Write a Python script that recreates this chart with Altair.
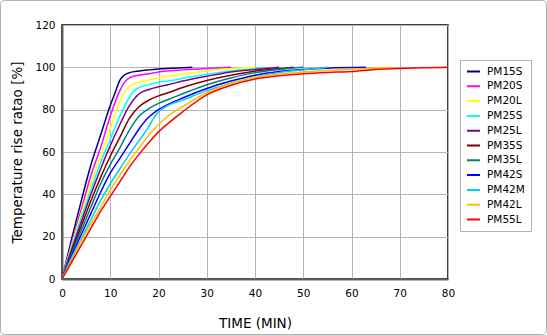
import altair as alt
import pandas as pd

names = ["PM15S", "PM20S", "PM20L", "PM25S", "PM25L", "PM35S",
         "PM35L", "PM42S", "PM42M", "PM42L", "PM55L"]
colors = ["#000080", "#FF00FF", "#FFFF00", "#00FFFF", "#800080", "#800000",
          "#008080", "#0000FF", "#00CCFF", "#FFC000", "#FF0000"]

pm15s_t = [0, 2, 4, 6, 8, 10, 11, 12, 13, 14, 16, 18, 20, 25, 27]
pm15s_v = [0, 19, 37, 54, 68, 82, 88, 94, 96.5, 97.5, 98.3, 98.8, 99.2, 99.8, 100]

pm20s_t = [0, 2, 4, 6, 8, 10, 12, 13, 14, 16, 18, 20, 25, 30, 35]
pm20s_v = [0, 17, 33, 49, 62, 77, 89, 93, 95, 96.3, 97, 97.8, 98.8, 99.5, 100]

pm20l_t = [0, 2, 4, 6, 8, 10, 11, 12, 13, 14, 16, 18, 20, 22, 25, 30, 35, 40]
pm20l_v = [0, 16, 31, 45, 58, 71, 78, 84, 88.5, 91, 93, 94, 95, 95.7, 96.8, 98.3, 99.3, 100]

pm25s_t = [0, 2, 4, 6, 8, 10, 12, 14, 15, 16, 18, 20, 22, 25, 30, 35, 40, 42]
pm25s_v = [0, 15, 29, 42, 55, 66, 77, 86, 89, 90.5, 91.8, 93, 93.5, 94.8, 96.7, 98.3, 99.3, 100]

pm25l_t = [0, 2, 4, 6, 8, 10, 12, 14, 16, 18, 20, 22, 25, 30, 35, 40, 45]
pm25l_v = [0, 14, 27, 40, 52, 63, 73, 82, 87.5, 89.5, 90.8, 91.8, 93.5, 95.8, 97.8, 99, 100]

pm35s_t = [0, 2, 4, 6, 8, 10, 12, 14, 16, 18, 20, 22, 25, 30, 35, 40, 45, 48]
pm35s_v = [0, 13, 25, 37, 48, 58, 67, 76, 81.5, 84.5, 86.5, 88, 90.5, 93.8, 96.3, 98.2, 99.3, 100]

pm35l_t = [0, 2, 4, 6, 8, 10, 12, 14, 16, 18, 20, 22, 25, 30, 35, 40, 45, 50]
pm35l_v = [0, 12, 23, 34, 45, 54, 62, 70.5, 77, 80.5, 83, 84.8, 87.5, 91.8, 95, 97.5, 99, 100]

pm42s_t = [0, 2, 4, 6, 8, 10, 12, 14, 16, 18, 20, 22, 25, 30, 35, 40, 45, 50, 55, 63]
pm42s_v = [0, 11, 21, 31, 41, 50, 57, 64, 71, 76.5, 80, 82.5, 85.5, 90, 93.5, 96.3, 98, 99, 99.6, 100]

pm42m_t = [0, 2, 4, 6, 8, 10, 12, 14, 16, 18, 19, 20, 22, 25, 30, 35, 40, 45, 50, 55]
pm42m_v = [0, 10, 19, 28, 37, 45, 52, 59, 65.5, 72, 76, 79, 82, 84.5, 89, 92.5, 95.5, 97.5, 98.8, 100]

pm42l_t = [0, 2, 4, 6, 8, 10, 12, 14, 16, 18, 20, 22, 25, 30, 35, 40, 45, 50, 55, 60, 65, 68]
pm42l_v = [0, 9, 18, 26, 34, 42, 49, 56, 62, 68, 73, 77, 81.5, 88, 92.5, 95.3, 96.8, 97.8, 98.5, 99.1, 99.6, 100]

pm55l_t = [0, 2, 4, 6, 8, 10, 12, 14, 16, 18, 20, 22, 25, 30, 35, 40, 45, 50, 55, 60, 65, 70, 75, 80]
pm55l_v = [0, 8, 16, 24, 32, 39, 46, 53, 59, 64.5, 69.5, 73.5, 79, 87, 91.5, 94.5, 96, 97, 97.6, 98, 99, 99.4, 99.8, 100]

series = [
    (pm15s_t, pm15s_v), (pm20s_t, pm20s_v), (pm20l_t, pm20l_v),
    (pm25s_t, pm25s_v), (pm25l_t, pm25l_v), (pm35s_t, pm35s_v),
    (pm35l_t, pm35l_v), (pm42s_t, pm42s_v), (pm42m_t, pm42m_v),
    (pm42l_t, pm42l_v), (pm55l_t, pm55l_v),
]

rows = []
for i, (name, (ts, vs)) in enumerate(zip(names, series)):
    for t, v in zip(ts, vs):
        rows.append({"series": name, "order": i, "time": t, "ratio": v})
df = pd.DataFrame(rows)

FONT = "DejaVu Sans"

frame = alt.Chart(alt.Data(values=[{}])).mark_rect(
    fillOpacity=0, stroke="#b0b0b0", strokeWidth=1, cornerRadius=4
).encode(
    x=alt.value(-61.5), x2=alt.value(484.5),
    y=alt.value(-24.5), y2=alt.value(309.5)
)

lines = alt.Chart(df).mark_line(strokeWidth=1.5, interpolate="monotone").encode(
    x=alt.X("time:Q", title="TIME (MIN)",
            scale=alt.Scale(domain=[0, 80], nice=False),
            axis=alt.Axis(values=list(range(0, 81, 10)), grid=True,
                          ticks=False, tickSize=0, labelPadding=9,
                          titlePadding=18, labelFlush=False)),
    y=alt.Y("ratio:Q", title="Temperature rise ratao [%]",
            scale=alt.Scale(domain=[0, 120], nice=False),
            axis=alt.Axis(values=list(range(0, 121, 20)), grid=True,
                          ticks=False, tickSize=0, labelPadding=7,
                          titlePadding=10, labelFlush=False)),
    color=alt.Color("series:N", sort=names,
                    scale=alt.Scale(domain=names, range=colors),
                    legend=alt.Legend(title=None, orient="none",
                                      legendX=398, legendY=35,
                                      symbolType="stroke", symbolSize=169,
                                      symbolStrokeWidth=2,
                                      strokeColor="#b0b0b0", padding=6,
                                      labelFontSize=10.5, labelFont=FONT,
                                      labelColor="#000", labelOffset=6,
                                      clipHeight=11, rowPadding=3.8,
                                      fillColor="white")),
    detail="series:N",
    order="time:Q",
)

chart = alt.layer(frame, lines).properties(
    width=386, height=254,
    autosize=alt.AutoSizeParams(type="none"),
    padding={"left": 62, "top": 25, "right": 99, "bottom": 56},
    background="white",
).configure_view(
    stroke="#000", strokeWidth=1.5
).configure_axis(
    labelFont=FONT, labelFontSize=10.5, labelColor="#000",
    titleFont=FONT, titleFontSize=13.5, titleFontWeight="normal", titleColor="#000",
    gridColor="#b4b4b4", gridWidth=1, gridOpacity=1,
    domainColor="#606060", domainWidth=2,
)

chart.save("out.html", embed_options={"renderer": "svg", "actions": False})
